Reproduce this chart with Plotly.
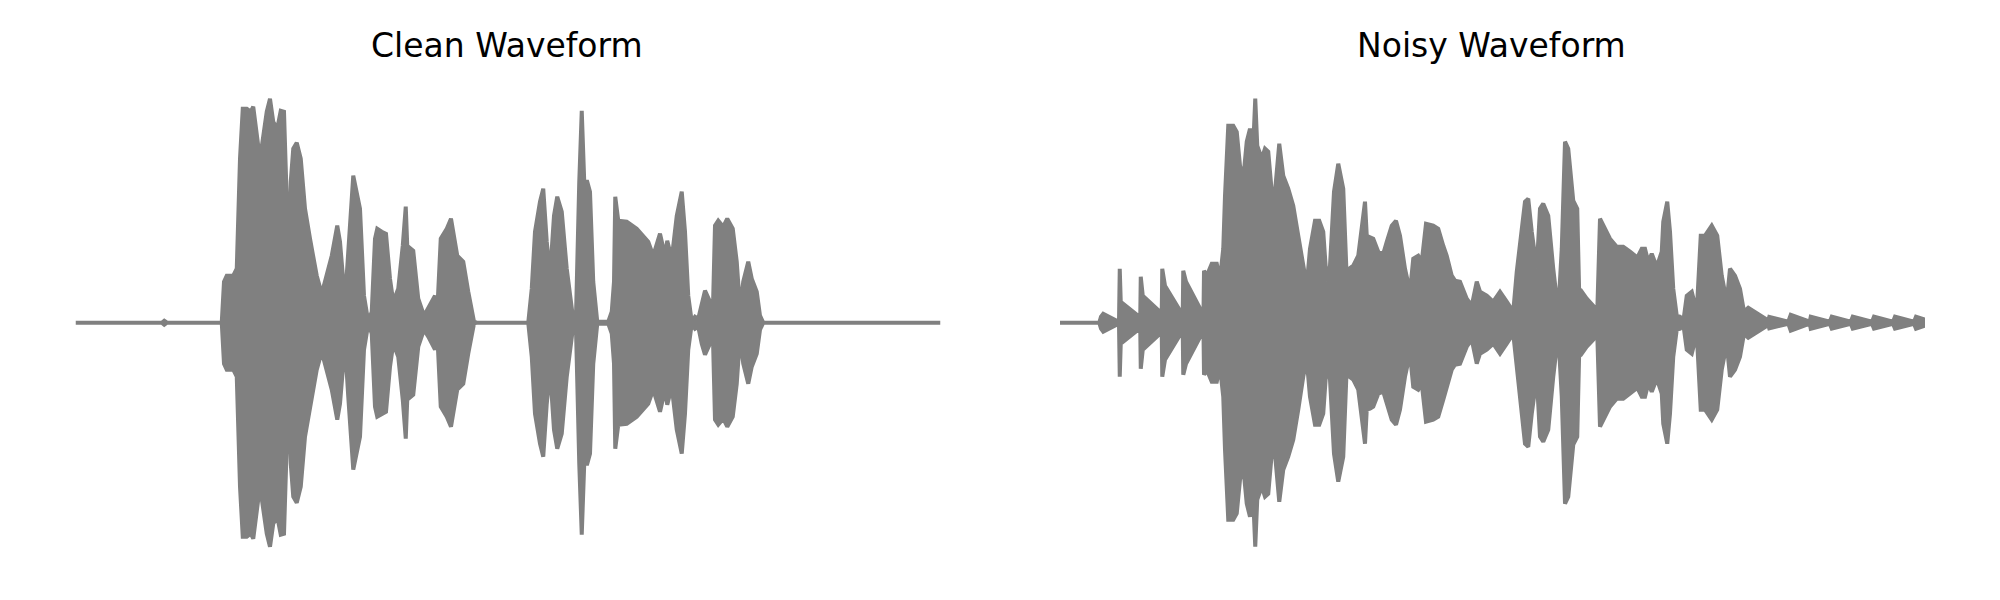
import plotly.graph_objects as go

# Envelope of the clean waveform (time in s, peak amplitude, symmetric about 0)
clean_t = [0, 0.345, 0.355, 0.366, 0.585, 0.594, 0.605, 0.631, 0.645, 0.658, 0.669, 0.685,
           0.701, 0.711, 0.735, 0.745, 0.765, 0.778, 0.791, 0.807, 0.821, 0.834, 0.853, 0.861,
           0.871, 0.885, 0.901, 0.918, 0.938, 0.965, 0.985, 1.002, 1.025, 1.047, 1.058, 1.078,
           1.091, 1.111, 1.138, 1.154, 1.171, 1.185, 1.198, 1.207, 1.225, 1.242, 1.258, 1.271,
           1.291, 1.309, 1.321, 1.327, 1.351, 1.371, 1.394, 1.411, 1.438, 1.447, 1.461, 1.485,
           1.502, 1.527, 1.551, 1.571, 1.594, 1.605, 1.811, 1.825, 1.838, 1.858, 1.871, 1.885,
           1.898, 1.914, 1.927, 1.945, 1.965, 1.989, 2.002, 2.015, 2.025, 2.035, 2.047, 2.058,
           2.071, 2.087, 2.131, 2.145, 2.154, 2.159, 2.171, 2.205, 2.245, 2.291, 2.311, 2.338,
           2.358, 2.367, 2.385, 2.405, 2.425, 2.438, 2.451, 2.465, 2.478, 2.491, 2.505, 2.518,
           2.538, 2.549, 2.558, 2.571, 2.591, 2.607, 2.629, 2.645, 2.658, 2.671, 2.691, 2.705,
           2.725, 2.738, 2.751, 3.46]
clean_amp = [0, 0, 0.008, 0, 0, 0.164, 0.188, 0.188, 0.216, 0.656, 0.856, 0.856,
             0.844, 0.864, 0.676, 0.704, 0.844, 0.896, 0.804, 0.776, 0.848, 0.844, 0.232, 0.564,
             0.696, 0.72, 0.656, 0.456, 0.336, 0.188, 0.116, 0.176, 0.268, 0.388, 0.324, 0.084,
             0.296, 0.588, 0.456, 0.108, 0.004, 0.044, 0.336, 0.376, 0.364, 0.356, 0.176, 0.084,
             0.136, 0.308, 0.464, 0.308, 0.288, 0.096, 0.028, 0.056, 0.108, 0.044, 0.336, 0.376,
             0.416, 0.268, 0.244, 0.124, 0.004, 0, 0, 0.136, 0.364, 0.484, 0.536, 0.324,
             0.188, 0.428, 0.504, 0.444, 0.216, 0.028, 0.028, 0.564, 0.848, 0.564, 0.564, 0.524,
             0.164, 0.004, 0.004, 0.044, 0.164, 0.504, 0.408, 0.404, 0.376, 0.324, 0.268, 0.356,
             0.268, 0.328, 0.256, 0.428, 0.524, 0.364, 0.108, 0.004, 0.024, 0.016, 0.084, 0.128,
             0.084, 0.028, 0.388, 0.408, 0.384, 0.416, 0.376, 0.244, 0.056, 0.164, 0.244, 0.176,
             0.124, 0.028, 0, 0]

# Envelope of the noisy waveform
noisy_t = [0, 0.157, 0.164, 0.173, 0.227, 0.236, 0.239, 0.243, 0.313, 0.321, 0.323, 0.331,
           0.4, 0.407, 0.409, 0.42, 0.483, 0.491, 0.493, 0.504, 0.567, 0.574, 0.576, 0.587,
           0.607, 0.627, 0.64, 0.653, 0.66, 0.673, 0.693, 0.707, 0.72, 0.733, 0.747, 0.76,
           0.773, 0.781, 0.789, 0.807, 0.82, 0.833, 0.847, 0.86, 0.877, 0.893, 0.913, 0.933,
           0.953, 0.973, 0.987, 1.0, 1.02, 1.037, 1.053, 1.067, 1.08, 1.096, 1.113, 1.133,
           1.147, 1.157, 1.173, 1.193, 1.207, 1.22, 1.227, 1.24, 1.253, 1.273, 1.293, 1.307,
           1.327, 1.344, 1.36, 1.38, 1.4, 1.413, 1.433, 1.447, 1.464, 1.493, 1.513, 1.533,
           1.547, 1.567, 1.58, 1.6, 1.627, 1.647, 1.667, 1.68, 1.707, 1.733, 1.76, 1.787,
           1.813, 1.827, 1.847, 1.86, 1.873, 1.887, 1.907, 1.92, 1.933, 1.953, 1.973, 1.993,
           2.007, 2.02, 2.033, 2.053, 2.069, 2.077, 2.087, 2.107, 2.133, 2.149, 2.16, 2.18,
           2.2, 2.227, 2.253, 2.28, 2.3, 2.307, 2.327, 2.34, 2.353, 2.367, 2.387, 2.407,
           2.413, 2.429, 2.44, 2.453, 2.467, 2.48, 2.493, 2.507, 2.527, 2.547, 2.563, 2.58,
           2.607, 2.629, 2.647, 2.667, 2.68, 2.7, 2.72, 2.736, 2.747, 2.753, 2.833, 2.837,
           2.913, 2.923, 2.999, 3.003, 3.079, 3.087, 3.163, 3.171, 3.248, 3.256, 3.332, 3.34,
           3.416, 3.424, 3.46]
noisy_amp = [0, 0, 0.024, 0.036, 0.008, 0.008, 0.216, 0.084, 0.028, 0.028, 0.184, 0.108,
             0.044, 0.044, 0.216, 0.148, 0.044, 0.044, 0.208, 0.164, 0.044, 0.044, 0.208, 0.188,
             0.236, 0.236, 0.176, 0.296, 0.508, 0.788, 0.788, 0.763, 0.628, 0.576, 0.724, 0.776,
             0.708, 0.896, 0.708, 0.656, 0.696, 0.684, 0.524, 0.524, 0.716, 0.588, 0.536, 0.468,
             0.348, 0.216, 0.148, 0.296, 0.408, 0.408, 0.364, 0.164, 0.228, 0.524, 0.636, 0.536,
             0.176, 0.216, 0.228, 0.268, 0.388, 0.484, 0.348, 0.344, 0.336, 0.284, 0.276, 0.324,
             0.388, 0.408, 0.348, 0.216, 0.124, 0.256, 0.268, 0.244, 0.396, 0.388, 0.376, 0.308,
             0.268, 0.188, 0.168, 0.164, 0.096, 0.068, 0.164, 0.124, 0.108, 0.084, 0.124, 0.084,
             0.044, 0.204, 0.364, 0.484, 0.496, 0.364, 0.216, 0.456, 0.476, 0.428, 0.216, 0.044,
             0.296, 0.724, 0.696, 0.488, 0.456, 0.108, 0.124, 0.096, 0.068, 0.044, 0.416, 0.376,
             0.336, 0.304, 0.304, 0.284, 0.268, 0.256, 0.296, 0.296, 0.244, 0.276, 0.224, 0.284,
             0.404, 0.484, 0.364, 0.136, 0.028, 0.024, 0.004, 0.108, 0.124, 0.044, 0.348, 0.348,
             0.388, 0.348, 0.188, 0.084, 0.216, 0.188, 0.136, 0.044, 0.056, 0.06, 0.009, 0.023,
             0.004, 0.032, 0.004, 0.024, 0.004, 0.024, 0.004, 0.024, 0.004, 0.024, 0.004, 0.024,
             0.004, 0.024, 0.012]

titles = ["Clean Waveform", "Noisy Waveform"]
GRAY = "#808080"


def envelope_trace(t, a, xa, ya):
    n = min(len(t), len(a))
    t, a = list(t[:n]), list(a[:n])
    xs = t + t[::-1]
    ys = a + [-v for v in a][::-1]
    return go.Scatter(x=xs, y=ys, mode="lines", fill="toself", fillcolor=GRAY,
                      line=dict(color=GRAY, width=4), xaxis=xa, yaxis=ya,
                      hoverinfo="skip", showlegend=False)


fig = go.Figure()
fig.add_trace(envelope_trace(clean_t, clean_amp, "x", "y"))
fig.add_trace(envelope_trace(noisy_t, noisy_amp, "x2", "y2"))

# page body has an 8px margin, so the figure is 16px smaller than the window
W, H = 1984, 584
yc = 314.7            # zero line, px from top of figure
scale = 0.004         # amplitude per px
yr = [-(H - yc) * scale, yc * scale]
hidden = dict(visible=False, showgrid=False, zeroline=False, showticklabels=False)
title_font = dict(family="DejaVu Sans", size=33, color="black")
fig.update_layout(
    width=W, height=H, margin=dict(l=0, r=0, t=0, b=0),
    paper_bgcolor="white", plot_bgcolor="white",
    xaxis=dict(domain=[67.5 / W, 932.5 / W], range=[0, 3.46], **hidden),
    xaxis2=dict(domain=[1052 / W, 1917 / W], range=[0, 3.46], **hidden),
    yaxis=dict(domain=[0, 1], range=yr, **hidden),
    yaxis2=dict(domain=[0, 1], range=yr, anchor="x2", **hidden),
    annotations=[
        dict(text=titles[0], x=499 / W, y=1 - 37.5 / H, xref="paper", yref="paper",
             xanchor="center", yanchor="middle", showarrow=False, font=title_font),
        dict(text=titles[1], x=1483 / W, y=1 - 37.5 / H, xref="paper", yref="paper",
             xanchor="center", yanchor="middle", showarrow=False, font=title_font),
    ],
)
fig.write_html("out.html")
